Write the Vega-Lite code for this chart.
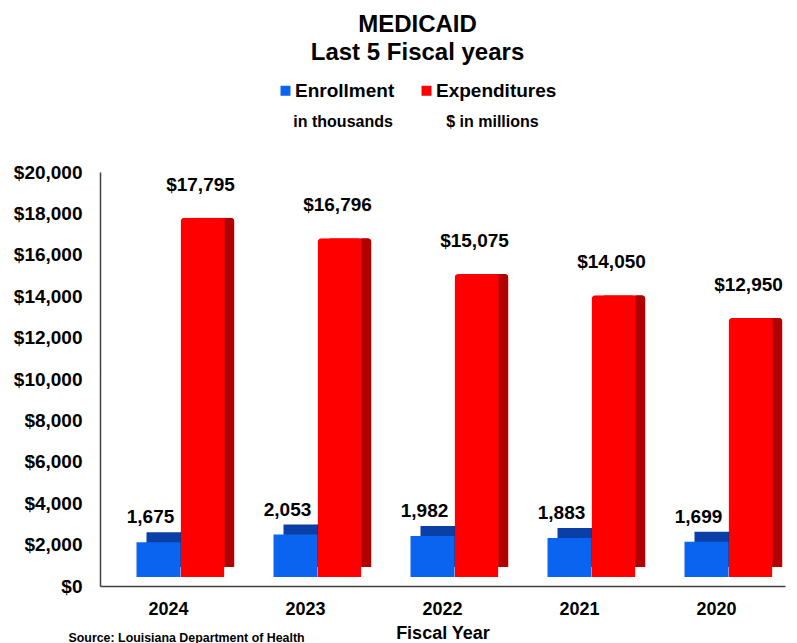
{
  "$schema": "https://vega.github.io/schema/vega-lite/v6.json",
  "width": 685,
  "height": 414,
  "autosize": {"type": "none"},
  "padding": {"left": 100, "top": 172, "right": 12, "bottom": 57},
  "background": "white",
  "config": {
    "font": "Liberation Sans",
    "view": {"stroke": null}
  },
  "title": {
    "text": ["MEDICAID", "Last 5 Fiscal years"],
    "fontSize": 24,
    "fontWeight": "bold",
    "lineHeight": 28,
    "color": "black",
    "anchor": "middle",
    "frame": "group",
    "offset": 16,
    "dx": -25
  },
  "data": {
    "values": [
      {"year": "2024", "series": "Enrollment", "value": 1675},
      {"year": "2023", "series": "Enrollment", "value": 2053},
      {"year": "2022", "series": "Enrollment", "value": 1982},
      {"year": "2021", "series": "Enrollment", "value": 1883},
      {"year": "2020", "series": "Enrollment", "value": 1699},
      {"year": "2024", "series": "Expenditures", "value": 17795},
      {"year": "2023", "series": "Expenditures", "value": 16796},
      {"year": "2022", "series": "Expenditures", "value": 15075},
      {"year": "2021", "series": "Expenditures", "value": 14050},
      {"year": "2020", "series": "Expenditures", "value": 12950}
    ]
  },
  "encoding": {
    "x": {
      "field": "year",
      "type": "nominal",
      "sort": ["2024", "2023", "2022", "2021", "2020"],
      "scale": {"paddingInner": 0, "paddingOuter": 0},
      "axis": {
        "title": "Fiscal Year",
        "titleFontSize": 18,
        "titleFontWeight": "bold",
        "titleColor": "black",
        "titleBaseline": "alphabetic",
        "titleY": 52,
        "labelAngle": 0,
        "labelFontSize": 18,
        "labelFontWeight": "bold",
        "labelColor": "black",
        "labelPadding": 14,
        "ticks": false,
        "domainColor": "#404040",
        "domainWidth": 1.5
      }
    },
    "y": {
      "field": "value",
      "type": "quantitative",
      "scale": {"domain": [0, 20000], "nice": false},
      "axis": {
        "values": [0, 2000, 4000, 6000, 8000, 10000, 12000, 14000, 16000, 18000, 20000],
        "format": "$,.0f",
        "grid": false,
        "ticks": false,
        "labelFontSize": 19,
        "labelFontWeight": "bold",
        "labelColor": "black",
        "labelPadding": 18,
        "domainColor": "#404040",
        "domainWidth": 1.5,
        "title": "Source: Louisiana Department of Health",
        "titleAngle": 0,
        "titleFontSize": 12.4,
        "titleFontWeight": "bold",
        "titleColor": "black",
        "titleAlign": "left",
        "titleBaseline": "alphabetic",
        "titleX": -32,
        "titleY": 469
      }
    }
  },
  "layer": [
    {
      "transform": [{"filter": "datum.series === 'Enrollment'"}],
      "mark": {"type": "bar", "width": 44, "color": "#0a3fa8", "xOffset": 0, "x2Offset": 0, "yOffset": -19, "y2Offset": -19}
    },
    {
      "transform": [{"filter": "datum.series === 'Enrollment'"}],
      "mark": {"type": "bar", "width": 10, "color": "#002d80", "xOffset": 17, "x2Offset": 17, "yOffset": -19, "y2Offset": -19}
    },
    {
      "transform": [{"filter": "datum.series === 'Enrollment'"}],
      "mark": {"type": "bar", "width": 44, "xOffset": -10, "x2Offset": -10, "yOffset": -9, "y2Offset": -9},
      "encoding": {
        "color": {
          "field": "series",
          "type": "nominal",
          "scale": {"domain": ["Enrollment", "Expenditures"], "range": ["#0a64f0", "#ff0000"]},
          "legend": {
            "orient": "none",
            "legendX": 176,
            "legendY": -91,
            "direction": "horizontal",
            "columns": 2,
            "padding": 0,
            "symbolType": "square",
            "symbolSize": 100,
            "symbolStrokeWidth": 0,
            "symbolOffset": 0,
            "labelFontSize": 19,
            "labelFontWeight": "bold",
            "labelColor": "black",
            "labelOffset": 0,
            "columnPadding": 22,
            "title": "in thousands\u00a0\u00a0\u00a0\u00a0\u00a0\u00a0\u00a0\u00a0\u00a0\u00a0\u00a0\u00a0$ in millions",
            "titleOrient": "bottom",
            "titleAnchor": "middle",
            "titleFontSize": 16,
            "titleFontWeight": "bold",
            "titleColor": "black",
            "titlePadding": 13,
            "titleLimit": 400
          }
        }
      }
    },
    {
      "transform": [{"filter": "datum.series === 'Expenditures'"}],
      "mark": {"type": "bar", "width": 44, "color": "#e00000", "cornerRadius": 4, "xOffset": 44, "x2Offset": 44, "yOffset": -19, "y2Offset": -19}
    },
    {
      "transform": [{"filter": "datum.series === 'Expenditures'"}],
      "mark": {"type": "bar", "width": 10, "color": "#b00000", "cornerRadiusTopRight": 4, "cornerRadiusBottomRight": 4, "xOffset": 61, "x2Offset": 61, "yOffset": -19, "y2Offset": -19}
    },
    {
      "transform": [{"filter": "datum.series === 'Expenditures'"}],
      "mark": {"type": "bar", "width": 44, "cornerRadius": 4, "xOffset": 34, "x2Offset": 34, "yOffset": -9, "y2Offset": -9},
      "encoding": {
        "color": {"field": "series", "type": "nominal"}
      }
    },
    {
      "transform": [{"filter": "datum.series === 'Enrollment'"}],
      "mark": {"type": "text", "fontSize": 19, "fontWeight": "bold", "color": "black", "baseline": "alphabetic", "xOffset": -18, "yOffset": -28},
      "encoding": {"text": {"field": "value", "type": "quantitative", "format": ",.0f"}}
    },
    {
      "transform": [{"filter": "datum.series === 'Expenditures'"}],
      "mark": {"type": "text", "fontSize": 19, "fontWeight": "bold", "color": "black", "baseline": "alphabetic", "xOffset": 32, "yOffset": -27},
      "encoding": {"text": {"field": "value", "type": "quantitative", "format": "$,.0f"}}
    }
  ]
}
